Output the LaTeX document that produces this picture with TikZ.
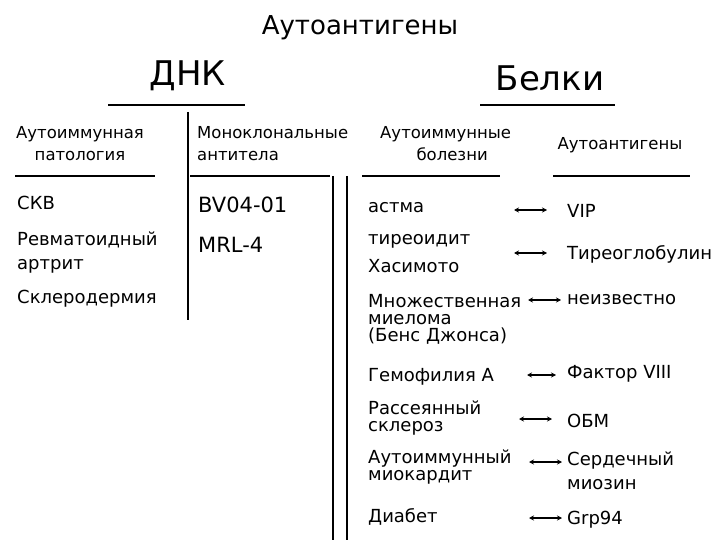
\documentclass[tikz,border=0pt]{standalone}
\usepackage{fontspec}
\setmainfont{DejaVu Sans}
\usetikzlibrary{arrows.meta}
\begin{document}
\begin{tikzpicture}[x=1pt,y=-1pt,
  t/.style={anchor=west,inner sep=0pt,font=\fontsize{18}{19}\selectfont,align=left},
  tc/.style={inner sep=0pt,font=\fontsize{18}{19}\selectfont,align=center},
  rule/.style={line width=2.4pt},
  arr/.style={{Stealth[length=5pt,width=5pt]}-{Stealth[length=5pt,width=5pt]},line width=1.4pt}]
\useasboundingbox (0,0) rectangle (720,540);
\node[inner sep=0pt,font=\fontsize{26}{26}\selectfont] (title) at (360,28) {Аутоантигены};
\node[inner sep=0pt,font=\fontsize{34}{34}\selectfont] (dnk) at (188,76) {ДНК};
\node[inner sep=0pt,font=\fontsize{34}{34}\selectfont] (bel) at (550,78) {Белки};
\draw[rule] (108,105) -- (245,105);
\draw[rule] (480,105) -- (615,105);
\draw[rule] (188,112) -- (188,320);
\node[tc,font=\fontsize{16.5}{22}\selectfont] (h1) at (80,144) {Аутоиммунная\\патология};
\node[t,font=\fontsize{16.5}{22}\selectfont] (h2) at (197,144) {Моноклональные\\антитела};
\node[t,font=\fontsize{16.5}{22}\selectfont] (h3) at (380,144) {Аутоиммунные\\\hspace*{2.2em}болезни};
\node[tc,font=\fontsize{16.5}{22}\selectfont] (h4) at (620,145) {Аутоантигены};
\draw[rule] (15,176) -- (155,176);
\draw[rule] (190,176) -- (330,176);
\draw[rule] (362,176) -- (500,176);
\draw[rule] (553,176) -- (690,176);
\draw[rule] (333,176) -- (333,540);
\draw[rule] (347,176) -- (347,540);
\node[t] (a1) at (17,203) {СКВ};
\node[t,font=\fontsize{18}{24}\selectfont] (a2) at (17,253) {Ревматоидный\\артрит};
\node[t] (a3) at (17,299) {Склеродермия};
\node[t,font=\fontsize{21}{21}\selectfont] (m1) at (198,205) {BV04-01};
\node[t,font=\fontsize{21}{21}\selectfont] (m2) at (198,245) {MRL-4};
\node[t] (d1) at (368,208) {астма};
\node[t,font=\fontsize{18}{28}\selectfont] (d2) at (368,254) {тиреоидит\\Хасимото};
\node[t,font=\fontsize{18}{17}\selectfont] (d3) at (368,319) {Множественная\\миелома\\(Бенс Джонса)};
\node[t] (d4) at (368,377) {Гемофилия А};
\node[t,font=\fontsize{18}{17}\selectfont] (d5) at (368,418) {Рассеянный\\склероз};
\node[t,font=\fontsize{18}{17}\selectfont] (d6) at (368,467) {Аутоиммунный\\миокардит};
\node[t] (d7) at (368,517) {Диабет};
\node[t] (g1) at (567,211) {VIP};
\node[t] (g2) at (567,254) {Тиреоглобулин};
\node[t] (g3) at (567,300) {неизвестно};
\node[t] (g4) at (567,374) {Фактор VIII};
\node[t] (g5) at (567,421) {ОБМ};
\node[t,font=\fontsize{18}{24}\selectfont] (g6) at (567,471) {Сердечный\\миозин};
\node[t] (g7) at (567,520) {Grp94};
\coordinate (p1a) at (514,210); \coordinate (p1b) at (547,210);
\draw[arr] (p1a) -- (p1b);
\coordinate (p2a) at (514,253); \coordinate (p2b) at (547,253);
\draw[arr] (p2a) -- (p2b);
\coordinate (p3a) at (528,300); \coordinate (p3b) at (561,300);
\draw[arr] (p3a) -- (p3b);
\coordinate (p4a) at (527,375); \coordinate (p4b) at (556,375);
\draw[arr] (p4a) -- (p4b);
\coordinate (p5a) at (519,419); \coordinate (p5b) at (552,419);
\draw[arr] (p5a) -- (p5b);
\coordinate (p6a) at (529,462); \coordinate (p6b) at (562,462);
\draw[arr] (p6a) -- (p6b);
\coordinate (p7a) at (529,518); \coordinate (p7b) at (562,518);
\draw[arr] (p7a) -- (p7b);
\end{tikzpicture}
\end{document}
